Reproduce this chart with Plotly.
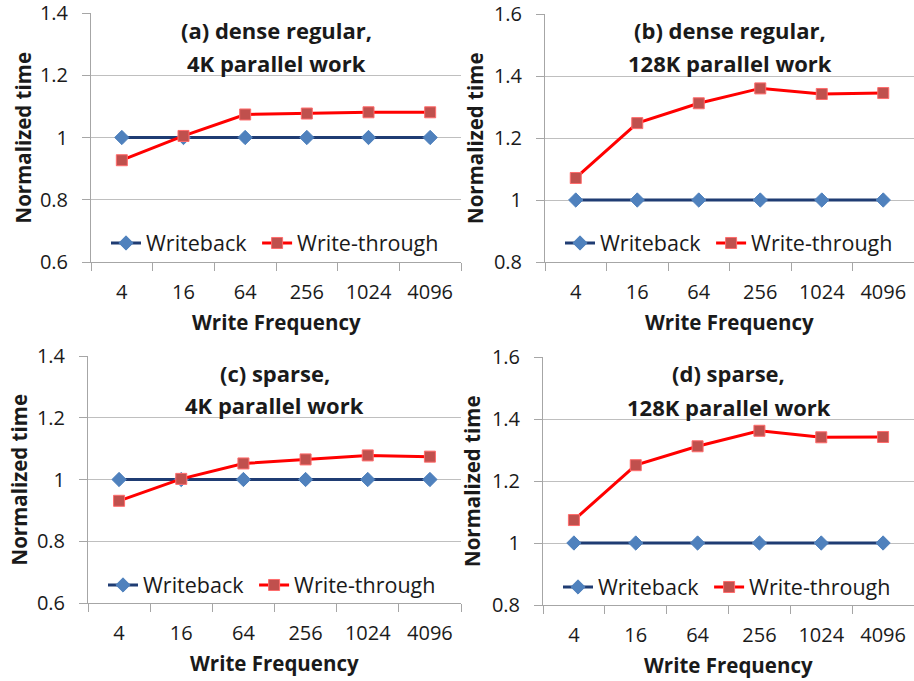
import plotly.graph_objects as go

# Write frequencies (categorical x axis)
write_freq = ["4", "16", "64", "256", "1024", "4096"]

# Normalized time per panel
writeback_a = [1, 1, 1, 1, 1, 1]
writethrough_a = [0.927, 1.005, 1.074, 1.077, 1.081, 1.081]

writeback_b = [1, 1, 1, 1, 1, 1]
writethrough_b = [1.071, 1.248, 1.312, 1.360, 1.342, 1.345]

writeback_c = [1, 1, 1, 1, 1, 1]
writethrough_c = [0.931, 1.002, 1.052, 1.065, 1.078, 1.074]

writeback_d = [1, 1, 1, 1, 1, 1]
writethrough_d = [1.074, 1.251, 1.312, 1.362, 1.341, 1.342]

panel_titles = [
    ("(a) dense regular,", "4K parallel work"),
    ("(b) dense regular,", "128K parallel work"),
    ("(c) sparse,", "4K parallel work"),
    ("(d) sparse,", "128K parallel work"),
]
y_ranges = [(0.6, 1.4), (0.8, 1.6), (0.6, 1.4), (0.8, 1.6)]

W, H = 914, 681
FONT = "'Open Sans', sans-serif"
TXT = "#1a1a1a"
GRID = "#bfbfbf"
AXIS = "#a6a6a6"
NB = "\u00a0"

# Plot-area boxes in pixels: (left, right, top, bottom)
boxes = [
    (91, 461, 13, 262),
    (545, 914, 14, 262),
    (88, 461, 356, 603),
    (543, 914, 357, 605),
]
# Legend placement: (x of first entry, y centre)
legend_pos = [(106, 243), (560, 243), (103, 585), (558, 587)]
# Title line centres
title_y = [(30, 63), (30, 63), (373, 405), (373, 407)]
ytitle_x = [22, 475, 18, 472]
xtitle_y = [322, 322, 663, 665]

series = [
    (writeback_a, writethrough_a),
    (writeback_b, writethrough_b),
    (writeback_c, writethrough_c),
    (writeback_d, writethrough_d),
]

fig = go.Figure()
layout = dict(
    width=W, height=H,
    margin=dict(l=0, r=0, t=0, b=0),
    paper_bgcolor="white", plot_bgcolor="white",
    font=dict(family=FONT, color=TXT),
    showlegend=True,
)
annotations = []

for i, ((wb, wt), box) in enumerate(zip(series, boxes)):
    n = "" if i == 0 else str(i + 1)
    l, r, t, b = box
    xd = [l / W, min(r / W, 1.0)]
    yd = [1 - b / H, 1 - t / H]
    leg = "legend" if i == 0 else f"legend{i + 1}"

    fig.add_trace(go.Scatter(
        x=write_freq, y=wb, name="Writeback" + NB, mode="lines+markers",
        xaxis=f"x{n}", yaxis=f"y{n}", legend=leg,
        line=dict(color="#1F3C73", width=3),
        marker=dict(symbol="diamond", size=11, color="#4F81BD",
                    line=dict(color="#4F81BD", width=1)),
    ))
    fig.add_trace(go.Scatter(
        x=write_freq, y=wt, name="Write-through", mode="lines+markers",
        xaxis=f"x{n}", yaxis=f"y{n}", legend=leg,
        line=dict(color="#FF0000", width=3),
        marker=dict(symbol="square", size=11, color="#C0504D",
                    line=dict(color="#FF6B6B", width=1)),
    ))

    layout[f"xaxis{n}"] = dict(
        domain=xd, anchor=f"y{n}", type="category", automargin=False,
        range=[-0.5, 5.5], showgrid=False, zeroline=False,
        showline=True, linecolor=AXIS, linewidth=1,
        ticks="outside", tickson="boundaries", ticklen=8, tickcolor=AXIS,
        tickfont=dict(size=20, color=TXT), ticklabelstandoff=12,
        ticklabeloverflow="allow",
    )
    lo, hi = y_ranges[i]
    layout[f"yaxis{n}"] = dict(
        domain=yd, anchor=f"x{n}", range=[lo, hi + 1e-6], dtick=0.2, tick0=lo,
        automargin=False, ticklabeloverflow="allow",
        showgrid=True, gridcolor=GRID, gridwidth=1, zeroline=False,
        showline=True, linecolor=AXIS, linewidth=1,
        ticks="outside", ticklen=8, tickcolor=AXIS,
        tickfont=dict(size=20, color=TXT), ticklabelstandoff=10,
    )
    lx, ly = legend_pos[i]
    layout[leg] = dict(
        orientation="h", x=lx / W, y=1 - ly / H, xanchor="left", yanchor="middle",
        bgcolor="rgba(0,0,0,0)", font=dict(size=21.5, color=TXT),
        itemclick=False,
    )

    cx = (l + min(r, W)) / 2
    for line_txt, yy in zip(panel_titles[i], title_y[i]):
        annotations.append(dict(
            text=f"<b>{line_txt}</b>", x=cx / W, y=1 - yy / H,
            xref="paper", yref="paper", xanchor="center", yanchor="middle",
            showarrow=False, font=dict(size=22, color=TXT),
        ))
    annotations.append(dict(
        text="<b>Normalized time</b>", x=ytitle_x[i] / W, y=1 - (t + b) / 2 / H,
        xref="paper", yref="paper", xanchor="center", yanchor="middle",
        textangle=-90, showarrow=False, font=dict(size=20.5, color=TXT),
    ))
    annotations.append(dict(
        text="<b>Write Frequency</b>", x=cx / W, y=1 - xtitle_y[i] / H,
        xref="paper", yref="paper", xanchor="center", yanchor="middle",
        showarrow=False, font=dict(size=20.5, color=TXT),
    ))

layout["annotations"] = annotations
fig.update_layout(**layout)
fig.write_html("out.html")
